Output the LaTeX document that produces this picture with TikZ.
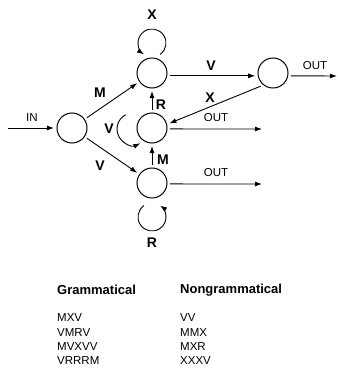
\documentclass[tikz,border=0pt]{standalone}
\usepackage{fontspec}
\setmainfont{Liberation Sans}
\usetikzlibrary{arrows.meta}
\begin{document}
\begin{tikzpicture}[x=1pt,y=1pt,
 st/.style={circle,draw,line width=1pt,minimum size=30pt,inner sep=0pt,outer sep=3pt},
 ar/.style={line width=0.9pt,-{Latex[length=7pt,width=5pt]}},
 bl/.style={font=\fontsize{14}{14}\selectfont\bfseries,inner sep=0pt},
 sm/.style={font=\fontsize{11.5}{11.5}\selectfont,inner sep=0pt},
 tb/.style={font=\fontsize{11.5}{11.5}\selectfont,inner sep=0pt,anchor=west},
 hd/.style={font=\fontsize{13}{13}\selectfont\bfseries,inner sep=0pt,anchor=west}]
\useasboundingbox (0,0) rectangle (338,368);
% states
\node[st] (L) at (72,240) {};
\node[st] (T) at (152,295) {};
\node[st] (Rt) at (273,295) {};
\node[st] (Md) at (152,240) {};
\node[st] (B) at (152,185) {};
% free ends
\coordinate (in) at (8,240);
\coordinate (o1) at (337,292);
\coordinate (o2) at (262,239);
\coordinate (o3) at (262,184);
\coordinate (lt) at (152,325);
\coordinate (lm) at (133,239);
\coordinate (lb) at (152,151);
% edges
\draw[ar] (in) -- (L);
\draw[ar] (L) -- (T);
\draw[ar] (L) -- (B);
\draw[ar] (T.-9) -- (Rt.189);
\draw[ar] (Rt.-9) -- (o1);
\draw[ar] (Rt.227) -- (Md.15);
\draw[ar] (Md.-3) -- (o2);
\draw[ar] (B.-3) -- (o3);
\draw[ar] (Md) -- (T);
\draw[ar] (B) -- (Md);
% loops
\draw[ar] ([shift={(-55:14)}]lt) arc[start angle=-55,end angle=235,radius=14];
\draw[ar] ([shift={(117:16)}]lm) arc[start angle=117,end angle=297,radius=16];
\draw[ar] ([shift={(125:14)}]lb) arc[start angle=125,end angle=415,radius=14];
% labels
\node[sm] (lin) at (32,250) {IN};
\node[bl] (lM1) at (100,275) {M};
\node[bl] (lV1) at (100,202) {V};
\node[bl] (lV2) at (211,302) {V};
\node[sm] (lo1) at (315,302) {OUT};
\node[bl] (lX1) at (210,270) {X};
\node[sm] (lo2) at (216,250) {OUT};
\node[sm] (lo3) at (216,195) {OUT};
\node[bl] (lR1) at (161,263) {R};
\node[bl] (lM2) at (163,208) {M};
\node[bl] (lX2) at (152,353) {X};
\node[bl] (lV3) at (109,239) {V};
\node[bl] (lR2) at (152,125) {R};
% table
\node[hd] (h1) at (57,78) {Grammatical};
\node[hd] (h2) at (180,78) {Nongrammatical};
\node[tb] (g1) at (57,50) {MXV};
\node[tb] (g2) at (57,35.7) {VMRV};
\node[tb] (g3) at (57,21.3) {MVXVV};
\node[tb] (g4) at (57,7) {VRRRM};
\node[tb] (n1) at (180,50) {VV};
\node[tb] (n2) at (180,35.7) {MMX};
\node[tb] (n3) at (180,21.3) {MXR};
\node[tb] (n4) at (180,7) {XXXV};
\end{tikzpicture}
\end{document}
